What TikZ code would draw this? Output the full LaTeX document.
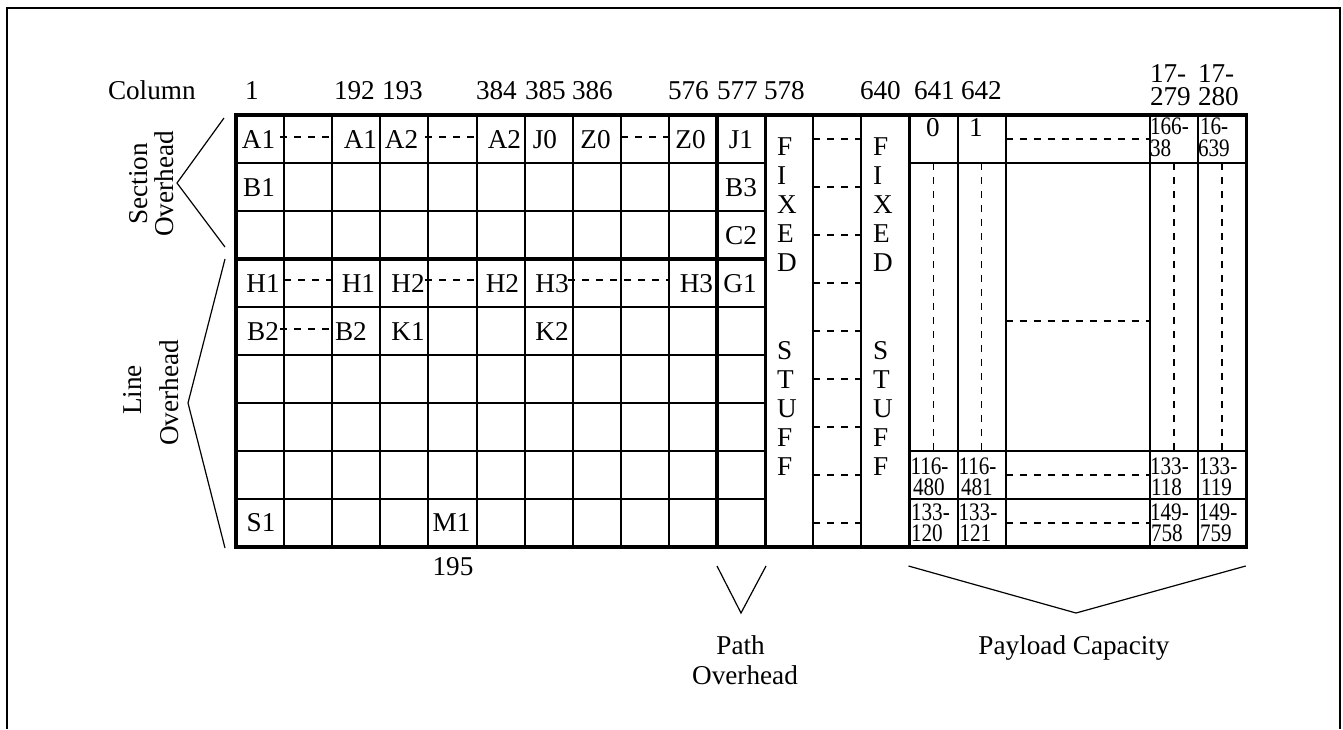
\documentclass[tikz,border=0pt]{standalone}
\usepackage{fontspec}
\setmainfont{Liberation Serif}
\newfontfamily\narrowfont[FakeStretch=0.84]{Liberation Serif}
\begin{document}
\begin{tikzpicture}[x=0.5pt,y=-0.5pt,
  every node/.style={inner sep=0pt,outer sep=0pt,font=\fontsize{13.6}{16}\selectfont},
  thinline/.style={line width=1pt},
  thickline/.style={line width=1.6pt},
  frameline/.style={line width=1pt},
  dashline/.style={line width=0.9pt,dash pattern=on 3.5pt off 3.5pt},
  brace/.style={line width=0.6pt},
  lbl/.style={anchor=base},
  lblw/.style={anchor=base west},
  lble/.style={anchor=base east},
  num/.style={anchor=base west,font=\narrowfont\fontsize{12.6}{14}\selectfont},
  rot/.style={anchor=base,rotate=90},
]
\useasboundingbox (0,0) rectangle (1343,729);
% outer frame
\draw[frameline] (7,729) -- (7,8) -- (1340,8) -- (1340,729);

% ---------- dashed fillers ----------
% column 13 (between 578 and 640)
\foreach \j in {0,...,8} \draw[dashline] (813.2,{139+48*\j}) -- (861.3,{139+48*\j});
% text rows
\draw[dashline] (280,137) -- (332.2,137);
\draw[dashline] (425,137) -- (476.5,137);
\draw[dashline] (620.8,137) -- (668.9,137);
\draw[dashline] (284.1,280) -- (332.2,280);
\draw[dashline] (425,280) -- (476.5,280);
\draw[dashline] (568,280) -- (668.9,280);
\draw[dashline] (280,329) -- (333,329);
% wide payload column
\foreach \yy in {139,321,475,523} \draw[dashline] (1005.6,\yy) -- (1149.9,\yy);
% vertical dashes in payload columns
\foreach \xx in {933.45,981.55,1174,1222} \draw[dashline] (\xx,163) -- (\xx,451);

% ---------- grid lines ----------
\foreach \j in {1,2,4,5,6,7,8} \draw[thinline] (236,{115+48*\j}) -- (765.1,{115+48*\j});
\foreach \yy in {163,451,499} \draw[thinline] (909.4,\yy) -- (1246.1,\yy);
\foreach \k in {1,...,9,12,13,15,16,19,20} \draw[thinline] ({236+48.1*\k},115) -- ({236+48.1*\k},547);
\foreach \k in {10,11,14} \draw[thickline] ({236+48.1*\k},115) -- ({236+48.1*\k},547);
\draw[thickline] (236,259) -- (765.1,259);
\draw[thickline] (236,115) rectangle (1246.1,547);

% ---------- column headings ----------
\node[lblw] (hcol) at (108,99) {Column};
\node[lblw] (h1) at (245,99) {1};
\node[lblw] (h192) at (334,99) {192};
\node[lblw] (h193) at (382,99) {193};
\node[lblw] (h384) at (476,99) {384};
\node[lblw] (h385) at (525,99) {385};
\node[lblw] (h386) at (572,99) {386};
\node[lblw] (h576) at (668,99) {576};
\node[lblw] (h577) at (717,99) {577};
\node[lblw] (h578) at (764,99) {578};
\node[lblw] (h640) at (860,99) {640};
\node[lblw] (h641) at (914,99) {641};
\node[lblw] (h642) at (961,99) {642};
\node[lblw] (h279a) at (1150,82) {17-};
\node[lblw] (h279b) at (1150,105) {279};
\node[lblw] (h280a) at (1198,82) {17-};
\node[lblw] (h280b) at (1198,105) {280};

% ---------- overhead cells ----------
\node[lbl] (a1a) at (258.5,148) {A1};
\node[lble] (a1b) at (377,148) {A1};
\node[lbl] (a2a) at (401.5,148) {A2};
\node[lble] (a2b) at (521,148) {A2};
\node[lbl] (j0) at (545,148) {J0};
\node[lbl] (z0a) at (595.5,148) {Z0};
\node[lbl] (z0b) at (690.5,148) {Z0};
\node[lbl] (j1) at (741,148) {J1};
\node[lbl] (b1) at (259,196) {B1};
\node[lbl] (b3) at (741,196) {B3};
\node[lbl] (c2) at (741,244) {C2};
\node[lbl] (h1a) at (263,292) {H1};
\node[lble] (h1b) at (375,292) {H1};
\node[lbl] (h2a) at (408,292) {H2};
\node[lble] (h2b) at (519,292) {H2};
\node[lbl] (h3a) at (552,292) {H3};
\node[lble] (h3b) at (713,292) {H3};
\node[lbl] (g1) at (740,292) {G1};
\node[lbl] (b2a) at (263,340) {B2};
\node[lblw] (b2b) at (335,340) {B2};
\node[lbl] (k1) at (408,340) {K1};
\node[lbl] (k2) at (552,340) {K2};
\node[lbl] (s1) at (261,531) {S1};
\node[lbl] (m1) at (451.5,531) {M1};
\node[lbl] (n195) at (453,575) {195};

% ---------- fixed stuff ----------
\foreach \ch [count=\i] in {F,I,X,E,D} {
  \node[lblw] (fa\i) at (777,{155+29*(\i-1)}) {\ch};
  \node[lblw] (fb\i) at (873,{155+29*(\i-1)}) {\ch};
}
\foreach \ch [count=\i] in {S,T,U,F,F} {
  \node[lblw] (sa\i) at (777,{359+29*(\i-1)}) {\ch};
  \node[lblw] (sb\i) at (873,{359+29*(\i-1)}) {\ch};
}

% ---------- payload cells ----------
\node[lblw] (p0) at (926,136) {0};
\node[lblw] (p1) at (969,136) {1};
\node[num] (p16638a) at (1150,134) {166-};
\node[num] (p16638b) at (1150,156.5) {38};
\node[num] (p16639a) at (1200,134) {16-};
\node[num] (p16639b) at (1198,156.5) {639};
\node[num] (q480a) at (910.5,474) {116-};
\node[num] (q480b) at (913,495) {480};
\node[num] (q481a) at (958.5,474) {116-};
\node[num] (q481b) at (961,495) {481};
\node[num] (q118a) at (1150,474) {133-};
\node[num] (q118b) at (1151,495) {118};
\node[num] (q119a) at (1198.5,474) {133-};
\node[num] (q119b) at (1201,495) {119};
\node[num] (r120a) at (911,520) {133-};
\node[num] (r120b) at (911,541.5) {120};
\node[num] (r121a) at (958.5,520) {133-};
\node[num] (r121b) at (959.5,541.5) {121};
\node[num] (r758a) at (1150,520) {149-};
\node[num] (r758b) at (1151,541.5) {758};
\node[num] (r759a) at (1198.5,520) {149-};
\node[num] (r759b) at (1200,541.5) {759};

% ---------- brackets and group labels ----------
\coordinate (sa) at (224,118); \coordinate (sb) at (177,183); \coordinate (sc) at (225,247);
\draw[brace] (sa) -- (sb) -- (sc);
\coordinate (la) at (225,259); \coordinate (lb) at (188,403); \coordinate (lc) at (225,548);
\draw[brace] (la) -- (lb) -- (lc);
\coordinate (pa) at (717,566); \coordinate (pb) at (741,613); \coordinate (pc) at (766,566);
\draw[brace] (pa) -- (pb) -- (pc);
\coordinate (ya) at (908.5,566); \coordinate (yb) at (1076,613); \coordinate (yc) at (1245.7,566);
\draw[brace] (ya) -- (yb) -- (yc);

\node[rot] (sec1) at (147,184) {Section};
\node[rot] (sec2) at (173,184) {Overhead};
\node[rot] (lin1) at (141.5,390) {Line};
\node[rot] (lin2) at (178.5,393) {Overhead};
\node[lbl] (path1) at (740.6,654) {Path};
\node[lbl] (path2) at (745,684) {Overhead};
\node[lbl] (pay) at (1074,654) {Payload Capacity};
\end{tikzpicture}
\end{document}
